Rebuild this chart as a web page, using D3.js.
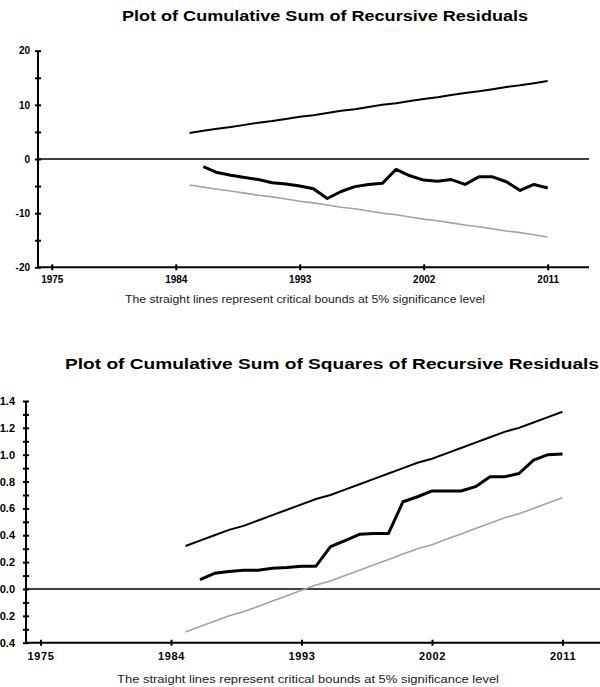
<!DOCTYPE html>
<html>
<head>
<meta charset="utf-8">
<script src="https://cdn.jsdelivr.net/npm/d3@7"></script>
<style>
  body { margin: 0; background: #fff; }
  svg { display: block; font-family: "Liberation Sans", Arial, sans-serif; }
  .axis path, .axis line { stroke: #000; stroke-width: 2; }
  .axis text { font-weight: bold; fill: #000; }
  .title { font-weight: bold; font-size: 14px; }
  .note { font-size: 10px; fill: #222; }
</style>
</head>
<body>
<div id="chart"></div>
<script>
(function() {
  /* years of the recursive estimation */
  var years = [1985, 1986, 1987, 1988, 1989, 1990, 1991, 1992, 1993, 1994,
               1995, 1996, 1997, 1998, 1999, 2000, 2001, 2002, 2003, 2004,
               2005, 2006, 2007, 2008, 2009, 2010, 2011];

  // CUSUM (first value missing for 1985)
  var cusum = [null, -1.4, -2.5, -3.0, -3.4, -3.8, -4.4, -4.6, -5.0, -5.5,
               -7.3, -6.0, -5.1, -4.7, -4.5, -1.9, -3.1, -3.9, -4.1, -3.8,
               -4.7, -3.3, -3.3, -4.2, -5.8, -4.7, -5.35];
  var cusumUpper = [4.8, 5.2, 5.6, 5.9, 6.3, 6.7, 7.0, 7.4, 7.8, 8.1,
                    8.5, 8.9, 9.2, 9.6, 10.0, 10.3, 10.7, 11.1, 11.4, 11.8,
                    12.2, 12.5, 12.9, 13.3, 13.6, 14.0, 14.4];
  var cusumLower = [-4.8, -5.2, -5.6, -5.9, -6.3, -6.7, -7.0, -7.4, -7.8, -8.1,
                    -8.5, -8.9, -9.2, -9.6, -10.0, -10.3, -10.7, -11.1, -11.4, -11.8,
                    -12.2, -12.5, -12.9, -13.3, -13.6, -14.0, -14.4];

  // CUSUM of squares
  var cusumsq = [null, 0.07, 0.117, 0.13, 0.14, 0.14, 0.154, 0.16, 0.17, 0.17,
                 0.315, 0.36, 0.407, 0.414, 0.414, 0.65, 0.687, 0.73, 0.73, 0.73,
                 0.762, 0.836, 0.836, 0.86, 0.96, 1.0, 1.005];
  var sqUpper = [0.32, 0.36, 0.40, 0.44, 0.47, 0.51, 0.55, 0.59, 0.63, 0.67,
                 0.70, 0.74, 0.78, 0.82, 0.86, 0.90, 0.94, 0.97, 1.01, 1.05,
                 1.09, 1.13, 1.17, 1.20, 1.24, 1.28, 1.32];
  var sqLower = [-0.32, -0.28, -0.24, -0.20, -0.17, -0.13, -0.09, -0.05, -0.01, 0.03,
                 0.06, 0.10, 0.14, 0.18, 0.22, 0.26, 0.30, 0.33, 0.37, 0.41,
                 0.45, 0.49, 0.53, 0.56, 0.60, 0.64, 0.68];

  // axis ticks
  var yearTicks = [1975, 1984, 1993, 2002, 2011];
  var cusumTicks = [-20, -15, -10, -5, 0, 5, 10, 15, 20];
  var cusumLabels = { '-20': '-20', '-10': '-10', '0': '0', '10': '10', '20': '20' };
  var sqTicks = [-0.4, -0.3, -0.2, -0.1, 0, 0.1, 0.2, 0.3, 0.4, 0.5, 0.6,
                 0.7, 0.8, 0.9, 1.0, 1.1, 1.2, 1.3, 1.4];
  var sqLabels = { '-0.4': '0.4', '-0.2': '0.2', '0': '0.0', '0.2': '0.2', '0.4': '0.4',
                   '0.6': '0.6', '0.8': '0.8', '1': '1.0', '1.2': '1.2', '1.4': '1.4' };

  var titles = ['Plot of Cumulative Sum of Recursive Residuals',
                'Plot of Cumulative Sum of Squares of Recursive Residuals'];
  var note = 'The straight lines represent critical bounds at 5% significance level';

  function translate(x, y) {
    return 'translate(' + x + ',' + y + ')';
  }

  var svg = d3.select('#chart')
    .append('svg')
      .attr('width', 600)
      .attr('height', 687);

  function panel(opts) {
    var x = d3.scaleLinear().domain([1974, 2014]).range([opts.left, opts.right]),
        y = d3.scaleLinear().domain(opts.yDomain).range([opts.bottom, opts.top]);

    svg.append('text')
      .attr('class', 'title')
      .attr('x', opts.titleX)
      .attr('y', opts.titleY)
      .attr('textLength', opts.titleW)
      .attr('lengthAdjust', 'spacingAndGlyphs')
      .text(opts.title);

    var yAxis = d3.axisLeft(y)
      .tickValues(opts.yTicks)
      .tickSize(3)
      .tickPadding(opts.yPad)
      .tickFormat(function(d) {
        var k = String(Math.round(d * 10) / 10);
        return opts.yLabels[k] || '';
      });

    var gy = svg.append('g')
      .attr('class', 'y axis')
      .attr('transform', translate(opts.left, 0))
      .call(yAxis);
    gy.select('.domain').attr('d', 'M0,' + opts.top + 'V' + opts.bottom);
    gy.selectAll('.tick line').attr('x1', 3);
    gy.selectAll('.tick text').style('font-size', opts.fontSize + 'px');

    var xAxis = d3.axisBottom(x)
      .tickValues(yearTicks)
      .tickSize(3)
      .tickPadding(opts.xPad)
      .tickFormat(d3.format('d'));

    var gx = svg.append('g')
      .attr('class', 'x axis')
      .attr('transform', translate(0, opts.bottom))
      .call(xAxis);
    gx.select('.domain').attr('d', 'M' + opts.left + ',0H' + opts.right);
    gx.selectAll('.tick line').attr('y1', -3);
    gx.selectAll('.tick text')
      .style('font-size', opts.fontSize + 'px')
      .style('letter-spacing', opts.xSpacing + 'px');

    // zero line
    svg.append('line')
      .attr('x1', opts.left).attr('x2', opts.right)
      .attr('y1', y(0)).attr('y2', y(0))
      .attr('stroke', '#000')
      .attr('stroke-width', 1.6);

    function series(values) {
      return years.map(function(yr, i) { return { year: yr, value: values[i] }; });
    }

    var line = d3.line()
      .defined(function(d) { return d.value !== null; })
      .x(function(d) { return x(d.year); })
      .y(function(d) { return y(d.value); });

    svg.append('path')
      .datum(series(opts.lower))
      .attr('fill', 'none')
      .attr('stroke', '#a3a3a3')
      .attr('stroke-width', 1.6)
      .attr('d', line);

    svg.append('path')
      .datum(series(opts.upper))
      .attr('fill', 'none')
      .attr('stroke', '#000')
      .attr('stroke-width', 2)
      .attr('d', line);

    svg.append('path')
      .datum(series(opts.values))
      .attr('fill', 'none')
      .attr('stroke', '#000')
      .attr('stroke-width', 3)
      .attr('stroke-linejoin', 'round')
      .attr('d', line);

    svg.append('text')
      .attr('class', 'note')
      .attr('x', opts.noteX)
      .attr('y', opts.noteY)
      .attr('textLength', opts.noteW)
      .attr('lengthAdjust', 'spacingAndGlyphs')
      .text(note);
  }

  panel({
    title: titles[0], titleX: 122, titleY: 21, titleW: 406,
    left: 38, right: 589, top: 50.7, bottom: 267.3,
    yDomain: [-20, 20], yTicks: cusumTicks, yLabels: cusumLabels,
    yPad: 5, xPad: 6, fontSize: 10, xSpacing: 0,
    values: cusum, upper: cusumUpper, lower: cusumLower,
    noteX: 125, noteY: 303, noteW: 360
  });

  panel({
    title: titles[1], titleX: 65, titleY: 369, titleW: 534,
    left: 26, right: 606, top: 401, bottom: 642.7,
    yDomain: [-0.4, 1.4], yTicks: sqTicks, yLabels: sqLabels,
    yPad: 8, xPad: 7, fontSize: 11, xSpacing: 0.6,
    values: cusumsq, upper: sqUpper, lower: sqLower,
    noteX: 117, noteY: 683, noteW: 382
  });
})();
</script>
</body>
</html>
